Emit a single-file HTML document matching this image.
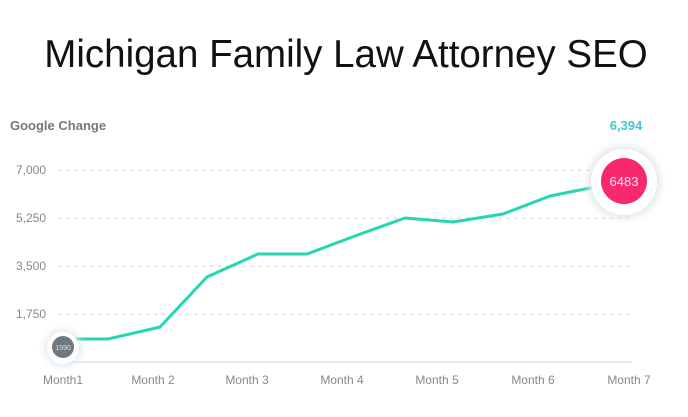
<!DOCTYPE html>
<html><head><style>
body{margin:0;background:#fff;width:688px;height:417px;overflow:hidden;font-family:"Liberation Sans",sans-serif}
</style></head><body>
<svg width="688" height="417" xmlns="http://www.w3.org/2000/svg" style="position:absolute;left:0;top:0">
<defs>
<filter id="sh" x="-50%" y="-50%" width="200%" height="200%"><feGaussianBlur stdDeviation="4"/></filter>
</defs>
<text x="346" y="67" text-anchor="middle" font-size="38.5" fill="#111" font-family="Liberation Sans,sans-serif">Michigan Family Law Attorney SEO</text>
<text x="10" y="130" font-size="13" font-weight="bold" fill="#777">Google Change</text>
<text x="626" y="130" text-anchor="middle" font-size="13" font-weight="bold" fill="#3cc8d8">6,394</text>
<g stroke="#ccc" stroke-dasharray="3,5" stroke-width="1">
<line x1="58" y1="170" x2="632" y2="170"/>
<line x1="58" y1="218" x2="632" y2="218"/>
<line x1="58" y1="266" x2="632" y2="266"/>
<line x1="58" y1="314" x2="632" y2="314"/>
</g>
<line x1="70" y1="362" x2="632" y2="362" stroke="#e2e2e2" stroke-width="1.5"/>
<g font-size="12" fill="#888" text-anchor="end">
<text x="46" y="174">7,000</text><text x="46" y="222">5,250</text><text x="46" y="270">3,500</text><text x="46" y="318">1,750</text>
</g>
<g font-size="12" fill="#888" text-anchor="middle">
<text x="63" y="384">Month1</text><text x="153" y="384">Month 2</text><text x="247" y="384">Month 3</text><text x="342" y="384">Month 4</text><text x="437" y="384">Month 5</text><text x="533" y="384">Month 6</text><text x="629" y="384">Month 7</text>
</g>
<polyline points="70,339 108,339 160,327 207,277 258,254 307,254 355,236 405,218 453,222 503,214 550,196 600,186" fill="none" stroke="#25d6b4" stroke-width="3" stroke-linejoin="round"/>
<circle cx="63" cy="348" r="18" fill="#dde6ee" filter="url(#sh)"/>
<circle cx="63" cy="348" r="16" fill="#fff"/>
<circle cx="63" cy="347" r="11" fill="#6f7880"/>
<text x="63" y="350" text-anchor="middle" font-size="7" fill="#ddd">1590</text>
<circle cx="624" cy="182" r="36" fill="#dde6ee" filter="url(#sh)"/>
<circle cx="624" cy="182" r="33" fill="#fff"/>
<circle cx="624" cy="181" r="23" fill="#f7286d"/>
<text x="624" y="186" text-anchor="middle" font-size="13" fill="#ffe6ee">6483</text>
</svg>
</body></html>
